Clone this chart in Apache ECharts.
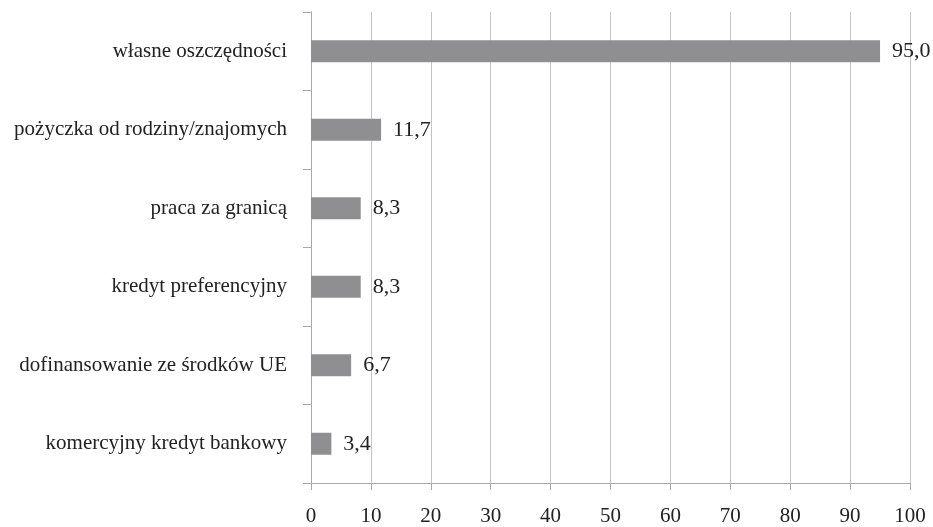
<!DOCTYPE html>
<html>
<head>
<meta charset="utf-8">
<script src="https://cdn.jsdelivr.net/npm/echarts@6/dist/echarts.min.js"></script>
<style>
html,body{margin:0;padding:0;background:#fff;}
#chart{width:933px;height:527px;}
</style>
</head>
<body>
<div id="chart"></div>
<script>
var categories = [
  'własne oszczędności',
  'pożyczka od rodziny/znajomych',
  'praca za granicą',
  'kredyt preferencyjny',
  'dofinansowanie ze środków UE',
  'komercyjny kredyt bankowy'
];
var values = [95.0, 11.7, 8.3, 8.3, 6.7, 3.4];
var xTicks = [0, 10, 20, 30, 40, 50, 60, 70, 80, 90, 100];

var chart = echarts.init(document.getElementById('chart'));
var serif = '"Liberation Serif", "DejaVu Serif", serif';
chart.setOption({
  animation: false,
  grid: { left: 311, right: 23, top: 12, bottom: 42, containLabel: false },
  xAxis: {
    type: 'value',
    min: xTicks[0],
    max: xTicks[xTicks.length - 1],
    interval: 10,
    axisLine: { show: true, lineStyle: { color: '#a8a8a8', width: 1 } },
    axisTick: { show: true, length: 7, lineStyle: { color: '#a8a8a8' } },
    axisLabel: { margin: 23, fontFamily: serif, fontSize: 21, color: '#222' },
    splitLine: { show: true, lineStyle: { color: '#c4c4c4', width: 1 } }
  },
  yAxis: {
    type: 'category',
    data: categories,
    inverse: true,
    axisLine: { show: true, lineStyle: { color: '#a8a8a8', width: 1 } },
    axisTick: { show: true, length: 8, interval: 0, lineStyle: { color: '#a8a8a8' } },
    axisLabel: { margin: 24, fontFamily: serif, fontSize: 21, color: '#222' }
  },
  series: [{
    type: 'bar',
    data: values,
    barWidth: 22,
    itemStyle: { color: '#8f8f91' },
    label: {
      show: true,
      position: 'right',
      distance: 12,
      fontFamily: serif,
      fontSize: 22,
      color: '#222',
      formatter: function (p) { return p.value.toFixed(1).replace('.', ','); }
    }
  }]
});
</script>
</body>
</html>
